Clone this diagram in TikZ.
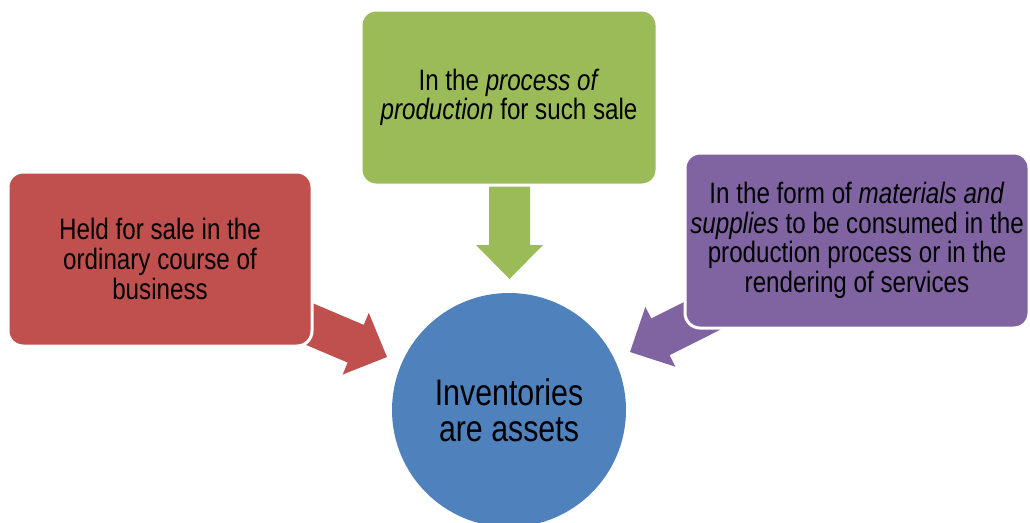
\documentclass[tikz,border=0pt]{standalone}
\usepackage{fontspec}
\setmainfont[FakeStretch=0.82]{Liberation Sans}
\definecolor{cred}{HTML}{C0504D}
\definecolor{cgreen}{HTML}{9BBB59}
\definecolor{cpurple}{HTML}{8064A2}
\definecolor{cblue}{HTML}{4F81BD}
\newcommand\blockarrow[3]{%
  \fill[#1, shift={#2}, rotate=#3]
    (0,0) -- (-34,33.5) -- (-34,20.5) -- (-98,20.5) -- (-98,-20.5)
    -- (-34,-20.5) -- (-34,-33.5) -- cycle;}
\begin{document}
\begin{tikzpicture}[x=1pt,y=1pt,
  box/.style={draw=white, line width=3pt, rounded corners=15pt, inner sep=0pt,
    align=center, font=\fontsize{29.5}{29.7}\selectfont, text=black},
  hub/.style={circle, fill=cblue, inner sep=0pt, minimum size=234pt,
    align=center, font=\fontsize{37}{36}\selectfont, text=black}]
\useasboundingbox (0,0) rectangle (1030,-522);
\clip (0,0) rectangle (1030,-522);
% block arrows
\blockarrow{cgreen}{(509.5,-279)}{-90}
\blockarrow{cred}{(387,-357)}{-23}
\blockarrow{cpurple}{(630,-352)}{206.6}
% boxes
\node[box, fill=cred, minimum width=304pt, minimum height=174pt] (held) at (160,-259)
  {Held for sale in the\\ordinary course of\\business};
\node[box, fill=cgreen, minimum width=296pt, minimum height=175pt] (prod) at (509,-97.5)
  {In the \textit{process of}\\\textit{production} for such sale};
\node[box, fill=cpurple, minimum width=344pt, minimum height=175pt] (mat) at (857,-240.5)
  {In the form of \textit{materials and}\\\textit{supplies} to be consumed in the\\production process or in the\\rendering of services};
\node[hub] (inv) at (509,-410) {Inventories\\are assets};
\end{tikzpicture}
\end{document}
